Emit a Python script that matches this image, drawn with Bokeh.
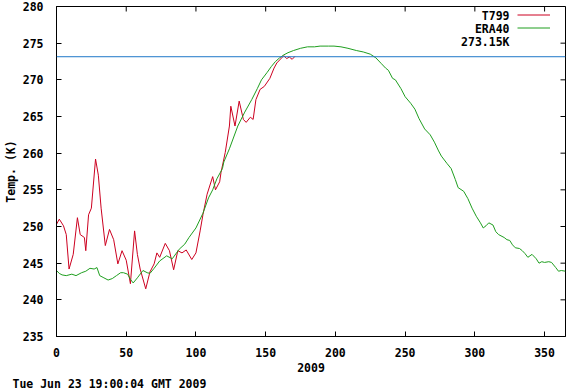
import math
from bokeh.plotting import figure
from bokeh.models import (Range1d, SingleIntervalTicker, Span, Label, Legend, LegendItem, Title)
from bokeh.embed import file_html
from bokeh.resources import INLINE

# ---- data (day of year 2009, temperature in K) ----
t799_day = [0, 2, 5, 7, 9, 12, 15, 17, 20, 21, 23, 25, 28, 30, 32, 35, 38, 41, 44, 47,
            50, 53, 56, 58, 60, 64, 67, 70, 72, 74, 78, 81, 84, 87, 90, 93, 97, 100, 103,
            105, 108, 112, 114, 117, 118, 121, 124, 125, 128, 131, 134, 136, 139, 141,
            143, 146, 149, 153, 156, 158, 160, 163, 165, 167, 169, 171]
t799_temp = [250.3, 251.0, 250.1, 248.9, 244.2, 246.2, 251.2, 248.9, 248.5, 246.7, 251.6,
             252.5, 259.2, 257.0, 252.5, 247.4, 249.6, 248.2, 244.9, 246.7, 245.4, 242.2,
             249.4, 246.2, 244.2, 241.5, 243.8, 244.9, 246.4, 245.8, 247.7, 246.7, 244.1,
             246.7, 246.4, 246.8, 245.5, 246.4, 249.4, 251.6, 254.4, 256.8, 255.0, 256.1,
             257.4, 260.1, 263.7, 266.4, 263.7, 267.1, 264.6, 264.2, 264.9, 264.6, 267.3,
             268.7, 269.1, 270.2, 271.6, 272.3, 272.7, 273.3, 272.9, 273.1, 272.8, 273.2]

era_day = [0, 2, 4, 7, 11, 14, 18, 21, 24, 27, 29, 31, 34, 37, 40, 43, 46, 48, 51, 53,
           55, 58, 62, 65, 67, 70, 74, 79, 83, 88, 92, 95, 100, 105, 109, 112, 115, 119,
           120, 124, 130, 135, 140, 144, 147, 151, 154, 157, 160, 163, 166, 170, 175, 180,
           185, 189, 195, 199, 204, 209, 215, 220, 225, 229, 233, 236, 238, 241, 243, 247,
           250, 254, 257, 260, 264, 268, 271, 274, 276, 280, 283, 286, 288, 292, 295, 298,
           301, 304, 306, 308, 310, 313, 315, 317, 321, 323, 325, 327, 329, 332, 334, 336,
           338, 341, 344, 346, 348, 350, 353, 355, 358, 360, 362, 365]
era_temp = [244.0, 243.6, 243.4, 243.3, 243.5, 243.3, 243.7, 243.9, 244.3, 244.2, 244.4,
            243.3, 243.0, 242.7, 242.9, 243.3, 243.7, 243.7, 243.5, 242.8, 242.3, 243.0,
            244.0, 243.7, 243.6, 244.3, 245.3, 246.0, 245.6, 246.9, 247.6, 248.5, 249.8,
            251.8, 253.9, 255.0, 256.5, 257.9, 258.8, 260.6, 263.7, 265.6, 267.3, 268.8,
            270.0, 271.0, 271.8, 272.5, 273.0, 273.4, 273.7, 274.0, 274.3, 274.5, 274.5,
            274.6, 274.6, 274.6, 274.5, 274.3, 274.0, 273.8, 273.5, 273.0, 272.2, 271.6,
            271.3, 270.2, 270.0, 268.8, 267.7, 266.8, 266.0, 264.7, 263.3, 262.5, 261.5,
            260.3, 259.6, 258.6, 257.9, 256.4, 255.3, 254.8, 253.8, 252.5, 251.4, 250.5,
            249.8, 250.1, 250.5, 250.2, 249.3, 248.9, 248.5, 248.2, 248.1, 247.5, 247.1,
            247.0, 246.7, 246.3, 245.8, 246.2, 245.6, 245.0, 245.2, 245.1, 245.2, 245.1,
            244.4, 243.9, 244.0, 243.9]

freeze_k = 273.15
series_names = ["T799", "ERA40", "273.15K"]
x_start, x_end = 0, 365
y_start, y_end = 235, 280
x_ticks = [0, 50, 100, 150, 200, 250, 300, 350]
y_ticks = [235, 240, 245, 250, 255, 260, 265, 270, 275, 280]
x_label = "2009"
y_label = "Temp. (K)"
stamp = "Tue Jun 23 19:00:04 GMT 2009"

RED = "#cc0020"
GREEN = "#1f9e1f"
BLUE = "#1f78c8"
FONT = "DejaVu Sans Mono"
FS = "11.5px"

p = figure(width=569, height=390, output_backend="svg", toolbar_location=None,
           x_range=Range1d(x_start, x_end), y_range=Range1d(y_start, y_end),
           min_border_left=46, min_border_right=4, min_border_top=6, min_border_bottom=30)
p.xgrid.visible = False
p.ygrid.visible = False
p.outline_line_color = "black"
p.outline_line_alpha = 1.0
p.outline_line_width = 1
p.background_fill_color = "white"
p.border_fill_color = "white"

p.xaxis[0].ticker = SingleIntervalTicker(interval=50)
p.yaxis[0].ticker = SingleIntervalTicker(interval=5)
p.xaxis[0].axis_label = x_label
p.yaxis[0].axis_label = y_label

for ax in p.axis:
    ax.major_tick_in = 5
    ax.major_tick_out = 0
    ax.minor_tick_line_color = None
    ax.axis_line_color = "black"
    ax.major_tick_line_color = "black"
    ax.major_label_text_font = FONT
    ax.major_label_text_font_style = "bold"
    ax.major_label_text_font_size = FS
    ax.major_label_text_color = "black"
    ax.axis_label_text_font = FONT
    ax.axis_label_text_font_style = "bold"
    ax.axis_label_text_font_size = FS
    ax.axis_label_text_color = "black"

p.xaxis[0].major_label_standoff = 7
p.xaxis[0].axis_label_standoff = 3
p.yaxis[0].major_label_standoff = 9
p.yaxis[0].axis_label_standoff = 2

# mirrored ticks on top and right edges (gnuplot border ticks)
p.scatter(x=x_ticks, y=[y_end] * len(x_ticks), marker="dash", size=10,
          angle=math.pi / 2, line_color="black", line_width=1)
p.scatter(x=[x_end] * len(y_ticks), y=y_ticks, marker="dash", size=10,
          line_color="black", line_width=1)

r_t = p.line(t799_day, t799_temp, line_color=RED, line_width=1)
r_e = p.line(era_day, era_temp, line_color=GREEN, line_width=1)
p.add_layout(Span(location=freeze_k, dimension="width", line_color=BLUE, line_width=1))
r_f = p.line(x=[], y=[], line_color=BLUE, line_width=1)

# gnuplot-style key: text right-aligned, sample line to its right
legend = Legend(items=[LegendItem(label=" ", renderers=[r]) for r in (r_t, r_e, r_f)],
                location="top_right", margin=0, padding=2, spacing=0,
                glyph_width=33, glyph_height=13, label_width=13, label_height=13,
                label_standoff=0, label_text_font_size="1px",
                background_fill_alpha=0, border_line_alpha=0)
p.add_layout(legend)
for i, name in enumerate(series_names):
    p.add_layout(Label(x=x_end, y=y_end, x_offset=-56, y_offset=-9 - 13 * i, text=name,
                       text_align="right", text_baseline="middle", text_font=FONT,
                       text_font_style="bold", text_font_size=FS, text_color="black"))

p.add_layout(Title(text=stamp, align="left", offset=-44, standoff=0, text_font=FONT,
                   text_font_style="bold", text_font_size=FS, text_color="black"), "below")

open("out.html", "w").write(file_html(p, INLINE))
